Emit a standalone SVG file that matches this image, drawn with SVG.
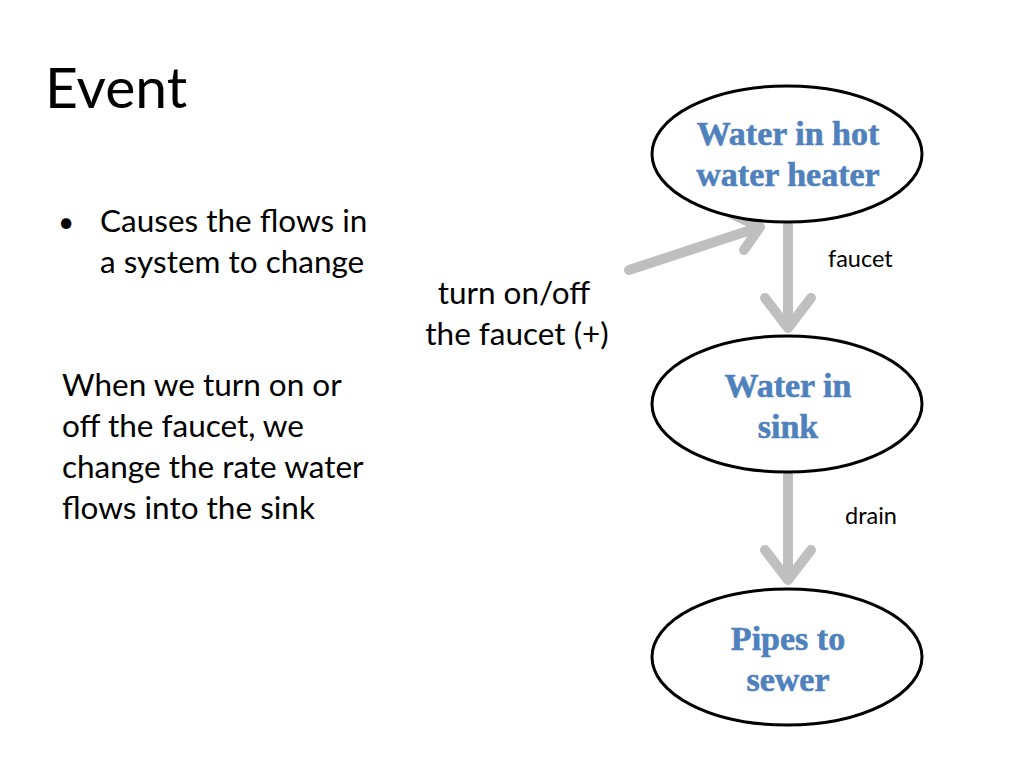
<svg xmlns="http://www.w3.org/2000/svg" width="1024" height="768" viewBox="0 0 1024 768">
<style>
.t{font-family:Lato,"Liberation Sans",sans-serif;fill:#000}
.n{font-family:"Liberation Serif",serif;font-weight:bold;font-size:34px;fill:#4f81bd;stroke:#4f81bd;stroke-width:0.6;text-anchor:middle}
.e{fill:#fff;stroke:#000;stroke-width:3}
.c{stroke:#bfbfbf;stroke-width:10;fill:none;stroke-linecap:round;stroke-linejoin:round}
</style>
<rect width="1024" height="768" fill="#fff"/>
<text class="t" x="45" y="108" font-size="57">Event</text>
<text class="t" x="58" y="232" font-size="28">•</text>
<text class="t" x="100" y="232" font-size="31.5">Causes the flows in</text>
<text class="t" x="100" y="273" font-size="31.5">a system to change</text>
<text class="t" x="62" y="396" font-size="31.5">When we turn on or</text>
<text class="t" x="62" y="437" font-size="31.5">off the faucet, we</text>
<text class="t" x="62" y="478" font-size="31.5">change the rate water</text>
<text class="t" x="62" y="519" font-size="31.5">flows into the sink</text>
<g id="connectors">
<path class="c" d="M788,224 V328 M765,298 L788,328 L811,298"/>
<path class="c" d="M788,474 V580 M765,550 L788,580 L811,550"/>
<path class="c" d="M629,270 L760,227 M732,214 L760,227 L744,250"/>
<text class="t" x="514" y="304" font-size="31.5" text-anchor="middle">turn on/off</text>
<text class="t" x="517" y="345" font-size="31.5" text-anchor="middle">the faucet (+)</text>
<text class="t" x="828" y="267" font-size="23.5">faucet</text>
<text class="t" x="845" y="524" font-size="23.5">drain</text>
</g>
<g id="heater">
<ellipse class="e" cx="787" cy="154" rx="135" ry="68"/>
<text class="n" x="788" y="145">Water in hot</text>
<text class="n" x="788" y="186">water heater</text>
</g>
<g id="sink">
<ellipse class="e" cx="787" cy="404" rx="135" ry="68"/>
<text class="n" x="788" y="397">Water in</text>
<text class="n" x="788" y="438">sink</text>
</g>
<g id="sewer">
<ellipse class="e" cx="787" cy="657" rx="135" ry="68"/>
<text class="n" x="788" y="650">Pipes to</text>
<text class="n" x="788" y="691">sewer</text>
</g>
</svg>
